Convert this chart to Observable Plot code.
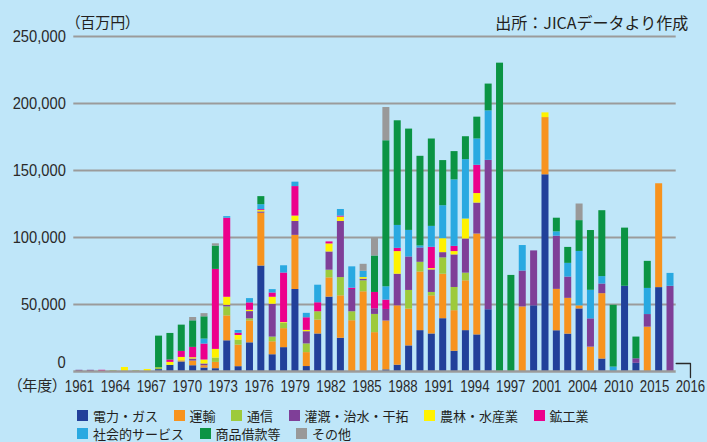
<!DOCTYPE html>
<html><head><meta charset="utf-8">
<script src="https://cdn.jsdelivr.net/npm/d3@7"></script>
<script src="https://cdn.jsdelivr.net/npm/@observablehq/plot@0.6"></script>
<style>
html,body{margin:0;padding:0;background:#bfe6f9;}
body{width:707px;height:442px;overflow:hidden;font-family:"Noto Sans CJK JP",sans-serif;}
#chart svg{display:block;overflow:visible;}
#legend{position:relative;height:42px;}
.row{position:absolute;left:77px;display:flex;align-items:center;height:18px;font-size:13px;color:#231f20;white-space:nowrap;}
.sw{width:11px;height:11px;margin-right:5px;flex:none;}
.lab{margin-right:15.5px;}
</style></head><body>
<div id="chart"></div>
<div id="legend"></div>
<script>
// sectors and colours
const sectors = ["電力・ガス","運輸","通信","灌漑・治水・干拓","農林・水産業","鉱工業","社会的サービス","商品借款等","その他"];
const colors  = ["#22409a","#f7931e","#9dca3c","#7f3f98","#fff200","#ec008c","#29a9e1","#0b9444","#999999"];

// tick labels on the category axis (as printed)
const tickLabels = ["1961","1964","1967","1970","1973","1976","1979","1982","1985","1988","1991","1994","1997","2001","2004","2010","2015","2016"];

// values per sector (百万円), one per bar, left to right
const power = [0,0,0,0,0,0,0,1400,4600,7100, 4300,2600,2100,22900,3600,21400,78700,12500,17800,61200, 3700,28000,55500,24800,0,0,0,1200,4700,19100, 30500,28000,39400,15100,30500,27300,46100,0,0,0, 49000,146800,30400,27900,46700,0,9300,0,63600,6100, 0,62600,0];
const transport = [0,0,0,0,0,0,0,0,0,900, 3500,1700,4700,18600,16100,16400,39400,9700,14200,40400, 10400,10400,14400,31700,37900,59500,29000,36500,44300,27500, 43800,28500,33200,30300,37200,75300,0,0,0,48200, 0,42700,30900,26700,2300,18200,48800,0,0,0, 33100,77500,0];
const telecom = [0,0,0,600,0,600,0,1500,0,0, 0,0,3200,6700,3700,1500,0,3500,4000,0, 6500,6200,5700,13600,6700,8200,13600,0,0,13900, 7200,2500,12200,17300,5700,0,0,0,0,0, 0,0,0,0,0,0,0,0,0,0, 0,0,0];
const irrigation = [900,900,0,0,0,0,0,0,0,0, 1500,1300,0,1200,0,5400,1000,24500,0,10400, 9100,0,13600,41900,16600,1200,4200,8600,23600,25000, 10700,16800,3900,24300,25500,23100,111500,0,0,26800, 41000,0,39700,15900,0,21100,7200,0,0,3400, 9400,0,63600];
const agriculture = [0,0,0,0,3000,0,1500,0,2200,2500, 1000,3000,6500,6000,3500,1000,1000,5200,500,4000, 1000,0,6000,3200,0,1200,0,0,16900,0, 0,1000,10400,2500,14900,7100,0,0,0,0, 0,3500,0,0,0,0,0,0,0,0, 0,0,0];
const mining = [0,0,900,0,0,0,0,0,1800,4500, 7700,11900,59700,59000,1700,5500,700,3200,37000,22000, 9400,6700,1500,800,1000,0,12200,7000,2400,0, 0,15900,0,3900,0,21100,0,0,0,0, 0,0,0,0,0,0,0,0,0,0, 0,0,0];
const social = [0,0,0,0,0,0,0,0,0,0, 0,3700,0,1200,2000,3200,3700,2500,5400,3300, 3300,13100,0,4900,15900,4700,0,9900,17100,19800, 1500,15600,24600,49600,44300,19600,36900,0,0,19000, 0,0,3200,10200,40600,21300,5500,3300,0,0, 19500,0,9600];
const commodity = [0,0,0,0,0,0,0,23500,19800,19600, 19800,16600,17400,0,0,0,6000,0,0,0, 0,0,0,0,0,0,27200,109000,78100,75600, 66900,65200,33700,21100,17100,16300,20000,230100,71700,0, 0,0,10200,11900,23000,44600,49200,46100,43400,16200, 20200,0,0];
const other = [0,0,0,0,0,0,0,0,0,0, 2500,2400,1700,0,0,0,0,0,0,0, 0,0,0,0,0,5200,13700,24800,0,0, 0,0,0,0,0,0,0,0,0,0, 0,0,0,0,12400,0,0,0,0,0, 0,0,0];

const yTicks = [50000,100000,150000,200000,250000];

// ---- layout ----
const W = 707, H = 400;
const frameL = 73.3, frameR = 675.7, frameT = 36, frameB = 371;
const series = [power, transport, telecom, irrigation, agriculture, mining, social, commodity, other];
const n = power.length;
const barStepPx = (frameR - frameL) / n;
const hw = 3.5 / barStepPx;                 // half bar width in slot units
const tickStep = 35.94 / barStepPx;         // label spacing in slot units
const tickPos = tickLabels.map((_, j) => j * tickStep);

// stacked rectangles
const rects = [];
for (let i = 0; i < n; i++) {
  let acc = 0;
  series.forEach((s, k) => {
    const v = s[i];
    if (v > 0) { rects.push({i, sector: sectors[k], y1: acc, y2: acc + v}); acc += v; }
  });
}

const numFont = "'Liberation Sans', Arial, sans-serif";
const jpFont = "'Noto Sans CJK JP', sans-serif";
const pxPerUnit = (frameB - frameT) / 250000;
const lastTick = tickPos[tickPos.length - 1];
const bracket = [
  {x: n - 0.5, y: 8 / pxPerUnit},
  {x: lastTick, y: 8 / pxPerUnit},
  {x: lastTick, y: -6 / pxPerUnit}
];

const chart = Plot.plot({
  width: W, height: H,
  marginLeft: frameL, marginRight: W - frameR, marginTop: frameT, marginBottom: H - frameB,
  style: {background: "transparent", fontFamily: numFont, fontSize: "16.5px", color: "#2a2a2a", overflow: "visible"},
  x: {type: "linear", domain: [-0.5, n - 0.5], axis: null, label: null},
  y: {domain: [0, 250000], axis: null, label: null},
  color: {domain: sectors, range: colors},
  marks: [
    Plot.ruleY(yTicks, {stroke: "#9b9b9b", strokeWidth: 2}),
    Plot.rect(rects, {x1: d => d.i - hw, x2: d => d.i + hw, y1: "y1", y2: "y2", fill: "sector"}),
    Plot.ruleY([0], {stroke: "#9b9b9b", strokeWidth: 2.5}),
    Plot.axisY(yTicks, {anchor: "left", label: null, tickSize: 0, tickPadding: 8, tickFormat: d3.format(","), fontSize: 16.5}),
    Plot.axisY([0], {anchor: "left", label: null, tickSize: 0, tickPadding: 8, tickFormat: d3.format(","), fontSize: 16.5, dy: -9}),
    Plot.axisX(tickPos, {anchor: "bottom", label: null, tickSize: 0, tickPadding: 9, fontSize: 16.5,
      tickFormat: d => tickLabels[Math.round(d / tickStep)]}),
    Plot.line(bracket, {x: "x", y: "y", stroke: "#2a2a2a", strokeWidth: 1.3}),
    Plot.text(["（年度）"], {frameAnchor: "bottom-left", textAnchor: "end", lineAnchor: "middle", dx: -14, dy: 15,
      fontFamily: jpFont, fontSize: 15, fill: "#2a2a2a"}),
    Plot.text(["（百万円）"], {frameAnchor: "top-left", textAnchor: "start", lineAnchor: "middle", dx: -1, dy: -13,
      fontFamily: jpFont, fontSize: 15, fill: "#231f20"}),
    Plot.text(["出所：JICAデータより作成"], {frameAnchor: "top-right", textAnchor: "end", lineAnchor: "middle", dx: 12, dy: -13,
      fontFamily: jpFont, fontSize: 16, fill: "#231f20"})
  ]
});
// proportional punctuation for the bracketed labels
chart.querySelectorAll("text").forEach(t => {
  if (/（/.test(t.textContent)) t.style.fontFeatureSettings = "'palt'";
});
document.getElementById("chart").append(chart);

// condense the numeric tick labels to resemble the original's narrow face
function condense(sel, f) {
  chart.querySelectorAll(sel).forEach(t => {
    const len = t.getComputedTextLength();
    if (len > 0) { t.setAttribute("textLength", (len * f).toFixed(1)); t.setAttribute("lengthAdjust", "spacingAndGlyphs"); }
  });
}
condense('g[aria-label="x-axis tick label"] text', 0.8);
condense('g[aria-label="y-axis tick label"] text', 0.89);

// legend
const rowsDef = [[0,1,2,3,4,5],[6,7,8]];
const legend = document.getElementById("legend");
rowsDef.forEach((row, r) => {
  const div = document.createElement("div");
  div.className = "row";
  div.style.top = (r === 0 ? 6.5 : 24) + "px";
  row.forEach(k => {
    const sw = document.createElement("span");
    sw.className = "sw"; sw.style.background = colors[k];
    const lab = document.createElement("span");
    lab.className = "lab"; lab.textContent = sectors[k];
    div.append(sw, lab);
  });
  legend.append(div);
});
</script>
</body></html>
